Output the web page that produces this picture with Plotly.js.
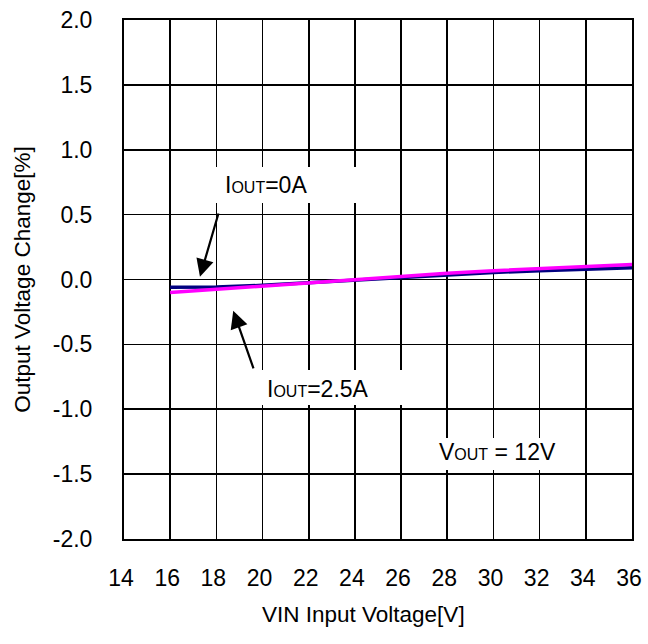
<!DOCTYPE html>
<html>
<head>
<meta charset="utf-8">
<script src="https://cdn.plot.ly/plotly-3.0.1.min.js"></script>
<style>html,body{margin:0;padding:0;background:#fff;}#chart{width:648px;height:644px;}</style>
</head>
<body>
<div id="chart"></div>
<script>
const vin = [16, 18, 20, 22, 24, 26, 28, 30, 32, 34, 36];
const iout0 = [-0.06, -0.058, -0.045, -0.025, 0.0, 0.02, 0.038, 0.054, 0.068, 0.08, 0.09];
const iout25 = [-0.10, -0.075, -0.05, -0.025, 0.0, 0.025, 0.048, 0.068, 0.085, 0.10, 0.115];
const xTicks = [14, 16, 18, 20, 22, 24, 26, 28, 30, 32, 34, 36];
const yTicks = [-2.0, -1.5, -1.0, -0.5, 0.0, 0.5, 1.0, 1.5, 2.0];
const yTickText = ['-2.0', '-1.5', '-1.0', '-0.5', '0.0', '0.5', '1.0', '1.5', '2.0'];

const FONT = 'Liberation Sans, Arial, sans-serif';
const small = s => '<span style="font-size:16px">' + s + '</span>';

const traces = [
  {x: vin, y: iout0, mode: 'lines', line: {color: '#000080', width: 3.5}, name: 'IOUT=0A'},
  {x: vin, y: iout25, mode: 'lines', line: {color: '#ff00ff', width: 3.5}, name: 'IOUT=2.5A'}
];

const boxes = [
  [17.85, 24.13, 0.589, 0.867],
  [18.37, 26.1, -0.967, -0.697],
  [26.17, 33.75, -1.468, -1.221]
];

const layout = {
  width: 648, height: 644,
  margin: {l: 124, r: 16, t: 20, b: 105},
  paper_bgcolor: '#fff', plot_bgcolor: '#fff',
  showlegend: false,
  font: {family: FONT, size: 23, color: '#000'},
  xaxis: {
    range: [14, 36], tickvals: xTicks, ticks: '', ticklabelstandoff: 17, ticklabelshift: -3,
    showgrid: true, gridcolor: '#000', gridwidth: 1.6, zeroline: false,
    showline: true, linecolor: '#000', linewidth: 2, mirror: true,
    tickfont: {size: 23, family: FONT}
  },
  yaxis: {
    range: [-2, 2], tickvals: yTicks, ticktext: yTickText, ticks: '', ticklabelstandoff: 25,
    showgrid: true, gridcolor: '#000', gridwidth: 1.6, zeroline: false,
    showline: true, linecolor: '#000', linewidth: 2, mirror: true,
    tickfont: {size: 23, family: FONT},
    title: {text: 'Output Voltage Change[%]', font: {size: 22.5, family: FONT}, standoff: 16}
  },
  shapes: boxes.map(b => ({type: 'rect', xref: 'x', yref: 'y', x0: b[0], x1: b[1], y0: b[2], y1: b[3],
    fillcolor: '#fff', line: {width: 0}, layer: 'above'})),
  annotations: [
    {xref: 'paper', yref: 'paper', x: (363 - 124) / 508, y: -(615 - 539.5) / 519.5, xanchor: 'center', yanchor: 'middle',
      showarrow: false, text: 'VIN Input Voltage[V]', font: {size: 22.5, family: FONT}},
    {xref: 'x', yref: 'y', x: 18.29, y: 0.728, xanchor: 'left', yanchor: 'middle', showarrow: false,
      text: 'I' + small('OUT') + '=0A', font: {size: 23, family: FONT}},
    {xref: 'x', yref: 'y', x: 20.1, y: -0.844, xanchor: 'left', yanchor: 'middle', showarrow: false,
      text: 'I' + small('OUT') + '=2.5A', font: {size: 23, family: FONT}},
    {xref: 'x', yref: 'y', x: 27.56, y: -1.329, xanchor: 'left', yanchor: 'middle', showarrow: false,
      text: 'V' + small('OUT') + ' = 12V', font: {size: 23, family: FONT}},
    {xref: 'x', yref: 'y', x: 17.29, y: 0.021, axref: 'x', ayref: 'y', ax: 18.11, ay: 0.52,
      text: '', showarrow: true, arrowhead: 2, arrowsize: 1.6, arrowwidth: 2.2, arrowcolor: '#000', standoff: 0},
    {xref: 'x', yref: 'y', x: 18.73, y: -0.24, axref: 'x', ayref: 'y', ax: 19.63, ay: -0.697,
      text: '', showarrow: true, arrowhead: 2, arrowsize: 1.6, arrowwidth: 2.2, arrowcolor: '#000', standoff: 0}
  ]
};

Plotly.newPlot('chart', traces, layout, {displayModeBar: false, staticPlot: true});
</script>
</body>
</html>
